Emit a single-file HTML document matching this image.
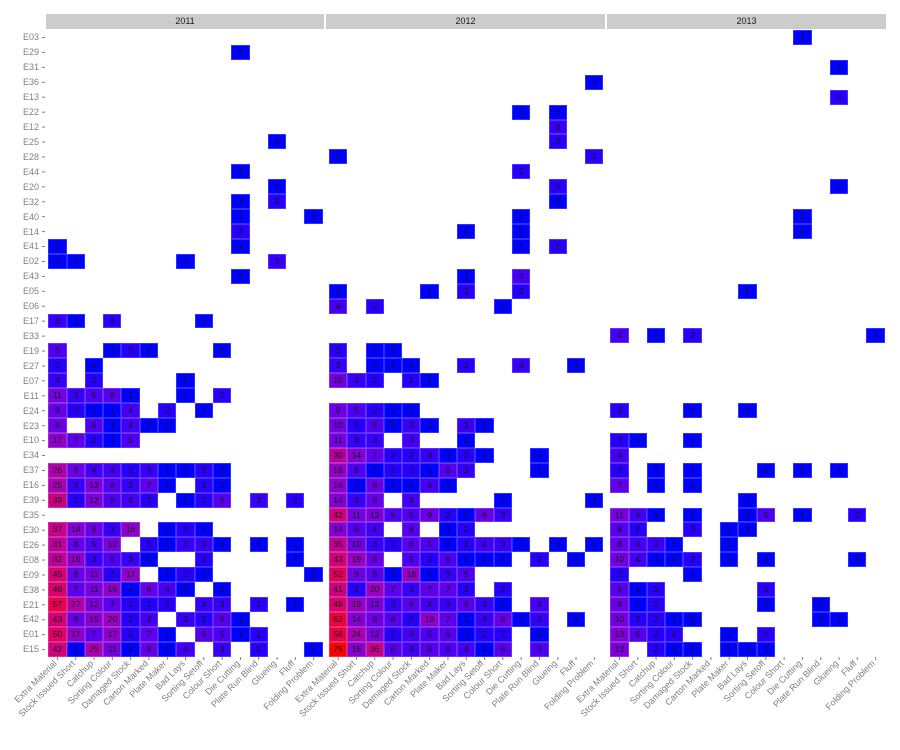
<!DOCTYPE html>
<html><head><meta charset="utf-8"><style>
body{margin:0;width:900px;height:750px;background:#fff;position:relative;overflow:hidden;font-family:"Liberation Sans",sans-serif}
.strip{position:absolute;top:14px;height:15px;background:#cccccc;font-size:9px;line-height:15px;text-align:center;color:#1a1a1a}
.pn{position:absolute;top:30px}
.pn p{margin:0;height:14.93px;display:grid;grid-template-columns:repeat(15,18.3px)}
.pn b,.pn s{display:block;text-decoration:none}
.pn b{font-weight:normal;font-size:8.5px;line-height:14.93px;text-align:center;color:#111;box-shadow:inset 0 0 0 0.7px rgba(255,255,255,0.25)}
svg{position:absolute;left:0;top:0}
</style></head><body>
<div class="strip" style="left:46px;width:278px">2011</div>
<div class="strip" style="left:326px;width:279px">2012</div>
<div class="strip" style="left:607px;width:279px">2013</div>

<div class="pn" style="left:48.3px">
<p></p>
<p><s></s><s></s><s></s><s></s><s></s><s></s><s></s><s></s><s></s><s></s><b>1</b></p>
<p></p><p></p><p></p><p></p><p></p>
<p><s></s><s></s><s></s><s></s><s></s><s></s><s></s><s></s><s></s><s></s><s></s><s></s><b>1</b></p>
<p></p>
<p><s></s><s></s><s></s><s></s><s></s><s></s><s></s><s></s><s></s><s></s><b>1</b></p>
<p><s></s><s></s><s></s><s></s><s></s><s></s><s></s><s></s><s></s><s></s><s></s><s></s><b>1</b></p>
<p><s></s><s></s><s></s><s></s><s></s><s></s><s></s><s></s><s></s><s></s><b>1</b><s></s><b>2</b></p>
<p><s></s><s></s><s></s><s></s><s></s><s></s><s></s><s></s><s></s><s></s><b>1</b><s></s><s></s><s></s><b>1</b></p>
<p><s></s><s></s><s></s><s></s><s></s><s></s><s></s><s></s><s></s><s></s><b>2</b></p>
<p><b>1</b><s></s><s></s><s></s><s></s><s></s><s></s><s></s><s></s><s></s><b>1</b></p>
<p><b>1</b><b>1</b><s></s><s></s><s></s><s></s><s></s><b>1</b><s></s><s></s><s></s><s></s><b>3</b></p>
<p><s></s><s></s><s></s><s></s><s></s><s></s><s></s><s></s><s></s><s></s><b>1</b></p>
<p></p><p></p>
<p><b>3</b><b>1</b><s></s><b>2</b><s></s><s></s><s></s><s></s><b>1</b></p>
<p></p>
<p><b>5</b><s></s><s></s><b>1</b><b>2</b><b>1</b><s></s><s></s><s></s><b>1</b></p>
<p><b>2</b><s></s><b>1</b></p>
<p><b>3</b><s></s><b>2</b><s></s><s></s><s></s><s></s><b>1</b></p>
<p><b>11</b><b>3</b><b>5</b><b>6</b><b>1</b><s></s><s></s><b>1</b><s></s><b>2</b></p>
<p><b>8</b><b>2</b><b>1</b><b>1</b><b>4</b><s></s><b>2</b><s></s><b>1</b></p>
<p><b>9</b><s></s><b>5</b><b>1</b><b>4</b><b>1</b><b>1</b></p>
<p><b>17</b><b>7</b><b>2</b><b>1</b><b>5</b></p>
<p></p>
<p><b>26</b><b>9</b><b>4</b><b>4</b><b>2</b><b>3</b><b>1</b><b>1</b><b>2</b><b>1</b></p>
<p><b>25</b><b>3</b><b>12</b><b>6</b><b>3</b><b>7</b><b>1</b><s></s><b>2</b><b>1</b></p>
<p><b>39</b><b>2</b><b>12</b><b>5</b><b>4</b><b>2</b><s></s><b>1</b><b>2</b><b>6</b><s></s><b>3</b><s></s><b>2</b></p>
<p></p>
<p><b>37</b><b>14</b><b>9</b><b>3</b><b>16</b><s></s><b>1</b><b>2</b><b>1</b></p>
<p><b>31</b><b>8</b><b>5</b><b>12</b><s></s><b>2</b><b>1</b><b>3</b><b>3</b><b>1</b><s></s><b>1</b><s></s><b>1</b></p>
<p><b>32</b><b>16</b><b>3</b><b>5</b><b>3</b><b>1</b><s></s><s></s><b>2</b><s></s><s></s><s></s><s></s><b>1</b></p>
<p><b>45</b><b>8</b><b>11</b><b>2</b><b>17</b><s></s><b>1</b><b>2</b><b>1</b><s></s><s></s><s></s><s></s><s></s><b>1</b></p>
<p><b>46</b><b>7</b><b>11</b><b>16</b><b>1</b><b>8</b><b>4</b><b>1</b><s></s><b>1</b></p>
<p><b>57</b><b>27</b><b>12</b><b>7</b><b>2</b><b>2</b><b>2</b><s></s><b>3</b><b>3</b><s></s><b>2</b><s></s><b>1</b></p>
<p><b>43</b><b>8</b><b>15</b><b>20</b><b>2</b><b>4</b><s></s><b>3</b><b>2</b><b>6</b><b>1</b></p>
<p><b>50</b><b>17</b><b>7</b><b>17</b><b>2</b><b>7</b><b>1</b><s></s><b>6</b><b>5</b><b>1</b><b>2</b></p>
<p><b>42</b><b>1</b><b>25</b><b>11</b><b>1</b><b>8</b><b>1</b><b>4</b><s></s><b>3</b><s></s><b>2</b><s></s><s></s><b>1</b></p>
</div>

<div class="pn" style="left:329px">
<p></p><p></p><p></p>
<p><s></s><s></s><s></s><s></s><s></s><s></s><s></s><s></s><s></s><s></s><s></s><s></s><s></s><s></s><b>1</b></p>
<p></p>
<p><s></s><s></s><s></s><s></s><s></s><s></s><s></s><s></s><s></s><s></s><b>1</b><s></s><b>1</b></p>
<p><s></s><s></s><s></s><s></s><s></s><s></s><s></s><s></s><s></s><s></s><s></s><s></s><b>3</b></p>
<p><s></s><s></s><s></s><s></s><s></s><s></s><s></s><s></s><s></s><s></s><s></s><s></s><b>2</b></p>
<p><b>1</b><s></s><s></s><s></s><s></s><s></s><s></s><s></s><s></s><s></s><s></s><s></s><s></s><s></s><b>2</b></p>
<p><s></s><s></s><s></s><s></s><s></s><s></s><s></s><s></s><s></s><s></s><b>2</b></p>
<p><s></s><s></s><s></s><s></s><s></s><s></s><s></s><s></s><s></s><s></s><s></s><s></s><b>2</b></p>
<p><s></s><s></s><s></s><s></s><s></s><s></s><s></s><s></s><s></s><s></s><s></s><s></s><b>1</b></p>
<p><s></s><s></s><s></s><s></s><s></s><s></s><s></s><s></s><s></s><s></s><b>1</b></p>
<p><s></s><s></s><s></s><s></s><s></s><s></s><s></s><b>1</b><s></s><s></s><b>1</b></p>
<p><s></s><s></s><s></s><s></s><s></s><s></s><s></s><s></s><s></s><s></s><b>1</b><s></s><b>2</b></p>
<p></p>
<p><s></s><s></s><s></s><s></s><s></s><s></s><s></s><b>1</b><s></s><s></s><b>4</b></p>
<p><b>1</b><s></s><s></s><s></s><s></s><b>1</b><s></s><b>2</b><s></s><s></s><b>2</b></p>
<p><b>4</b><s></s><b>2</b><s></s><s></s><s></s><s></s><s></s><s></s><b>1</b></p>
<p></p><p></p>
<p><b>2</b><s></s><b>1</b><b>1</b></p>
<p><b>3</b><s></s><b>1</b><b>1</b><b>1</b><s></s><s></s><b>2</b><s></s><s></s><b>3</b><s></s><s></s><b>1</b></p>
<p><b>10</b><b>3</b><b>2</b><s></s><b>2</b><b>1</b></p>
<p></p>
<p><b>9</b><b>5</b><b>2</b><b>1</b><b>1</b></p>
<p><b>10</b><b>2</b><b>5</b><b>1</b><b>3</b><b>1</b><s></s><b>3</b><b>1</b></p>
<p><b>11</b><b>3</b><b>3</b><s></s><b>4</b><s></s><s></s><b>1</b></p>
<p><b>30</b><b>14</b><b>7</b><b>2</b><b>2</b><b>3</b><b>1</b><b>2</b><b>1</b><s></s><s></s><b>1</b></p>
<p><b>18</b><b>5</b><b>1</b><b>2</b><b>2</b><b>1</b><b>6</b><b>3</b><s></s><s></s><s></s><b>1</b></p>
<p><b>16</b><b>1</b><b>8</b><b>1</b><b>1</b><b>4</b><b>1</b></p>
<p><b>14</b><b>3</b><b>8</b><s></s><b>4</b><s></s><s></s><s></s><s></s><b>1</b><s></s><s></s><s></s><s></s><b>1</b></p>
<p><b>42</b><b>11</b><b>12</b><b>5</b><b>5</b><b>9</b><b>2</b><b>1</b><b>8</b><b>3</b></p>
<p><b>14</b><b>6</b><b>4</b><s></s><b>6</b><s></s><b>1</b><b>2</b></p>
<p><b>35</b><b>10</b><b>3</b><b>2</b><b>6</b><b>5</b><b>1</b><b>2</b><b>4</b><b>3</b><b>1</b><s></s><b>1</b><s></s><b>1</b></p>
<p><b>43</b><b>19</b><b>8</b><s></s><b>5</b><b>2</b><b>5</b><b>1</b><b>1</b><b>1</b><s></s><b>2</b><s></s><b>1</b></p>
<p><b>52</b><b>9</b><b>6</b><b>1</b><b>18</b><b>1</b><b>3</b><b>5</b></p>
<p><b>41</b><b>2</b><b>20</b><b>7</b><b>3</b><b>7</b><b>7</b><b>2</b><s></s><b>2</b></p>
<p><b>48</b><b>19</b><b>12</b><b>3</b><b>6</b><b>4</b><b>3</b><b>6</b><b>3</b><b>1</b><s></s><b>4</b></p>
<p><b>62</b><b>14</b><b>9</b><b>6</b><b>2</b><b>16</b><b>7</b><b>1</b><b>3</b><b>8</b><b>1</b><b>3</b><s></s><b>1</b></p>
<p><b>58</b><b>24</b><b>12</b><b>2</b><b>4</b><b>5</b><b>6</b><b>1</b><b>2</b><b>2</b><s></s><b>1</b></p>
<p><b>75</b><b>15</b><b>36</b><b>6</b><b>4</b><b>6</b><b>5</b><b>4</b><b>1</b><b>6</b><s></s><b>5</b></p>
</div>

<div class="pn" style="left:610.3px">
<p><s></s><s></s><s></s><s></s><s></s><s></s><s></s><s></s><s></s><s></s><b>1</b></p>
<p></p>
<p><s></s><s></s><s></s><s></s><s></s><s></s><s></s><s></s><s></s><s></s><s></s><s></s><b>1</b></p>
<p></p>
<p><s></s><s></s><s></s><s></s><s></s><s></s><s></s><s></s><s></s><s></s><s></s><s></s><b>2</b></p>
<p></p><p></p><p></p><p></p><p></p>
<p><s></s><s></s><s></s><s></s><s></s><s></s><s></s><s></s><s></s><s></s><s></s><s></s><b>1</b></p>
<p></p>
<p><s></s><s></s><s></s><s></s><s></s><s></s><s></s><s></s><s></s><s></s><b>1</b></p>
<p><s></s><s></s><s></s><s></s><s></s><s></s><s></s><s></s><s></s><s></s><b>1</b></p>
<p></p><p></p><p></p>
<p><s></s><s></s><s></s><s></s><s></s><s></s><s></s><b>1</b></p>
<p></p><p></p>
<p><b>4</b><s></s><b>1</b><s></s><b>2</b><s></s><s></s><s></s><s></s><s></s><s></s><s></s><s></s><s></s><b>1</b></p>
<p></p><p></p><p></p><p></p>
<p><b>2</b><s></s><s></s><s></s><b>1</b><s></s><s></s><b>1</b></p>
<p></p>
<p><b>2</b><b>1</b><s></s><s></s><b>1</b></p>
<p><b>4</b></p>
<p><b>2</b><s></s><b>1</b><s></s><b>1</b><s></s><s></s><s></s><b>1</b><s></s><b>1</b><s></s><b>1</b></p>
<p><b>7</b><s></s><b>1</b><s></s><b>1</b></p>
<p><s></s><s></s><s></s><s></s><s></s><s></s><s></s><b>1</b></p>
<p><b>11</b><b>4</b><b>1</b><s></s><b>1</b><s></s><s></s><b>1</b><b>5</b><s></s><b>1</b><s></s><s></s><b>2</b></p>
<p><b>6</b><b>2</b><s></s><s></s><b>2</b><s></s><b>1</b><b>1</b></p>
<p><b>8</b><b>4</b><b>3</b><b>1</b><s></s><s></s><b>1</b></p>
<p><b>10</b><b>4</b><b>1</b><b>1</b><b>2</b><s></s><b>1</b><s></s><b>1</b><s></s><s></s><s></s><s></s><b>1</b></p>
<p><b>2</b><s></s><s></s><s></s><b>1</b></p>
<p><b>6</b><b>1</b><b>2</b><s></s><s></s><s></s><s></s><s></s><b>2</b></p>
<p><b>9</b><b>1</b><b>2</b><s></s><s></s><s></s><s></s><s></s><b>1</b><s></s><s></s><b>1</b></p>
<p><b>10</b><b>2</b><b>2</b><b>1</b><b>1</b><s></s><s></s><s></s><s></s><s></s><s></s><b>1</b><b>1</b></p>
<p><b>13</b><b>6</b><b>2</b><b>2</b><s></s><s></s><b>1</b><s></s><b>2</b></p>
<p><b>12</b><s></s><b>2</b><b>1</b><b>1</b><s></s><b>1</b><b>1</b><b>1</b></p>
</div>

<svg width="900" height="750" font-family="Liberation Sans, sans-serif" font-size="9" fill="#7f7f7f">
<g text-anchor="end">
<text x="39" y="40">E03</text><text x="39" y="55">E29</text><text x="39" y="70">E31</text><text x="39" y="85">E36</text><text x="39" y="100">E13</text><text x="39" y="115">E22</text><text x="39" y="130">E12</text><text x="39" y="145">E25</text><text x="39" y="160">E28</text><text x="39" y="175">E44</text><text x="39" y="190">E20</text><text x="39" y="205">E32</text><text x="39" y="220">E40</text><text x="39" y="235">E14</text><text x="39" y="249">E41</text><text x="39" y="264">E02</text><text x="39" y="279">E43</text><text x="39" y="294">E05</text><text x="39" y="309">E06</text><text x="39" y="324">E17</text><text x="39" y="339">E33</text><text x="39" y="354">E19</text><text x="39" y="369">E27</text><text x="39" y="384">E07</text><text x="39" y="399">E11</text><text x="39" y="414">E24</text><text x="39" y="429">E23</text><text x="39" y="443">E10</text><text x="39" y="458">E34</text><text x="39" y="473">E37</text><text x="39" y="488">E16</text><text x="39" y="503">E39</text><text x="39" y="518">E35</text><text x="39" y="533">E30</text><text x="39" y="548">E26</text><text x="39" y="563">E08</text><text x="39" y="578">E09</text><text x="39" y="593">E38</text><text x="39" y="608">E21</text><text x="39" y="622">E42</text><text x="39" y="637">E01</text><text x="39" y="652">E15</text>
</g>
<g id="yt" stroke="#7f7f7f" stroke-width="1"></g>
<g id="xt" stroke="#7f7f7f" stroke-width="1"></g>
<g text-anchor="end">
<g transform="translate(48.3,0)">
<text transform="translate(9,664) rotate(-45)">Extra Material</text><text transform="translate(27.3,664) rotate(-45)">Stock Issued Short</text><text transform="translate(45.6,664) rotate(-45)">Catchup</text><text transform="translate(63.9,664) rotate(-45)">Sorting Colour</text><text transform="translate(82.2,664) rotate(-45)">Damaged Stock</text><text transform="translate(100.5,664) rotate(-45)">Carton Marked</text><text transform="translate(118.8,664) rotate(-45)">Plate Maker</text><text transform="translate(137.1,664) rotate(-45)">Bad Lays</text><text transform="translate(155.4,664) rotate(-45)">Sorting Setoff</text><text transform="translate(173.7,664) rotate(-45)">Colour Short</text><text transform="translate(192,664) rotate(-45)">Die Cutting</text><text transform="translate(210.3,664) rotate(-45)">Plate Run Blind</text><text transform="translate(228.6,664) rotate(-45)">Glueing</text><text transform="translate(246.9,664) rotate(-45)">Fluff</text><text transform="translate(265.2,664) rotate(-45)">Folding Problem</text>
</g>
<g transform="translate(329,0)">
<text transform="translate(9,664) rotate(-45)">Extra Material</text><text transform="translate(27.3,664) rotate(-45)">Stock Issued Short</text><text transform="translate(45.6,664) rotate(-45)">Catchup</text><text transform="translate(63.9,664) rotate(-45)">Sorting Colour</text><text transform="translate(82.2,664) rotate(-45)">Damaged Stock</text><text transform="translate(100.5,664) rotate(-45)">Carton Marked</text><text transform="translate(118.8,664) rotate(-45)">Plate Maker</text><text transform="translate(137.1,664) rotate(-45)">Bad Lays</text><text transform="translate(155.4,664) rotate(-45)">Sorting Setoff</text><text transform="translate(173.7,664) rotate(-45)">Colour Short</text><text transform="translate(192,664) rotate(-45)">Die Cutting</text><text transform="translate(210.3,664) rotate(-45)">Plate Run Blind</text><text transform="translate(228.6,664) rotate(-45)">Glueing</text><text transform="translate(246.9,664) rotate(-45)">Fluff</text><text transform="translate(265.2,664) rotate(-45)">Folding Problem</text>
</g>
<g transform="translate(610.3,0)">
<text transform="translate(9,664) rotate(-45)">Extra Material</text><text transform="translate(27.3,664) rotate(-45)">Stock Issued Short</text><text transform="translate(45.6,664) rotate(-45)">Catchup</text><text transform="translate(63.9,664) rotate(-45)">Sorting Colour</text><text transform="translate(82.2,664) rotate(-45)">Damaged Stock</text><text transform="translate(100.5,664) rotate(-45)">Carton Marked</text><text transform="translate(118.8,664) rotate(-45)">Plate Maker</text><text transform="translate(137.1,664) rotate(-45)">Bad Lays</text><text transform="translate(155.4,664) rotate(-45)">Sorting Setoff</text><text transform="translate(173.7,664) rotate(-45)">Colour Short</text><text transform="translate(192,664) rotate(-45)">Die Cutting</text><text transform="translate(210.3,664) rotate(-45)">Plate Run Blind</text><text transform="translate(228.6,664) rotate(-45)">Glueing</text><text transform="translate(246.9,664) rotate(-45)">Fluff</text><text transform="translate(265.2,664) rotate(-45)">Folding Problem</text>
</g>
</g>
</svg>
<script>
(function(){
var ns="http://www.w3.org/2000/svg";
var yt=document.getElementById("yt"),xt=document.getElementById("xt");
function ln(g,x1,y1,x2,y2){var l=document.createElementNS(ns,"line");l.setAttribute("x1",x1);l.setAttribute("y1",y1);l.setAttribute("x2",x2);l.setAttribute("y2",y2);g.appendChild(l);}
for(var i=0;i<42;i++){var y=37.5+i*14.93;ln(yt,42,y,45,y);}
[48.3,329,610.3].forEach(function(L){for(var j=0;j<15;j++){var x=L+9.15+j*18.3;ln(xt,x,657,x,660);}});
var A=[32.3,79.19,-107.86],B=[53.24,80.09,67.2];
function finv(t){return t>6/29?t*t*t:3*(6/29)*(6/29)*(t-4/29);}
function g(c){c=Math.max(0,Math.min(1,c));return Math.round(255*(c<=0.0031308?12.92*c:1.055*Math.pow(c,1/2.4)-0.055));}
function col(v){var t=(v-1)/74;var L=A[0]+(B[0]-A[0])*t,a=A[1]+(B[1]-A[1])*t,b=A[2]+(B[2]-A[2])*t;
var fy=(L+16)/116,fx=fy+a/500,fz=fy-b/200;var X=0.95047*finv(fx),Y=finv(fy),Z=1.08883*finv(fz);
var r=3.2406*X-1.5372*Y-0.4986*Z,gg=-0.9689*X+1.8758*Y+0.0415*Z,bb=0.0557*X-0.2040*Y+1.0570*Z;
return "rgb("+g(r)+","+g(gg)+","+g(bb)+")";}
var bs=document.querySelectorAll(".pn b");for(var k=0;k<bs.length;k++){bs[k].style.background=col(+bs[k].textContent);}
})();
</script>
</body></html>
